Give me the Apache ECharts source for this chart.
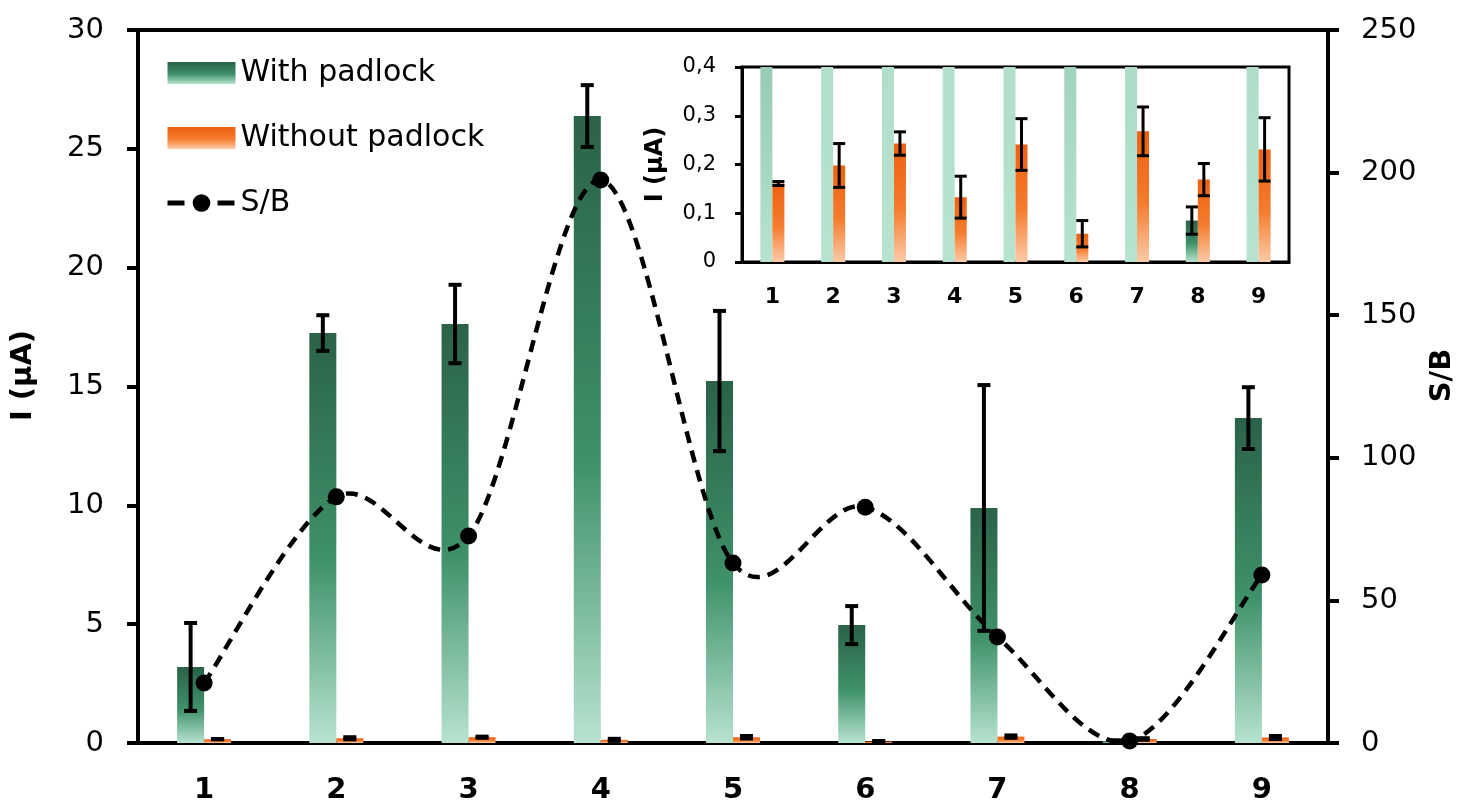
<!DOCTYPE html>
<html>
<head>
<meta charset="utf-8">
<title>Padlock S/B</title>
<script src="https://cdn.jsdelivr.net/npm/echarts@6/dist/echarts.min.js"></script>
<style>
  html, body { margin: 0; padding: 0; background: #fff; }
  #chart { width: 1457px; height: 802px; }
</style>
</head>
<body>
<div id="chart"></div>
<script>
// categories (x axis)
const categories = ['1', '2', '3', '4', '5', '6', '7', '8', '9'];
// current, µA
const withPadlock = [3.2, 17.25, 17.63, 26.38, 15.23, 4.96, 9.89, 0.085, 13.67];
const withPadlockErr = [1.85, 0.75, 1.65, 1.3, 2.95, 0.8, 5.17, 0.028, 1.3];
const withoutPadlock = [0.161, 0.198, 0.243, 0.133, 0.241, 0.058, 0.268, 0.169, 0.231];
const withoutPadlockErr = [0.004, 0.045, 0.024, 0.043, 0.053, 0.027, 0.05, 0.033, 0.065];
// signal / background
const sbRatio = [21, 86.3, 72.6, 197.4, 63.1, 82.7, 37.2, 0.7, 58.9];

const FONT = 'DejaVu Sans';
const MAIN_BAR = 27;
const INSET_BAR = 12;
const INSET_MAX = 0.4;

// gradient stops, top of bar -> bottom of bar
const greenStops = [[0, '#2b6248'], [0.55, '#3e9169'], [1, '#b7e3cf']];
const orangeStops = [[0, '#ee6010'], [0.55, '#f57c2e'], [1, '#fdcaa8']];

function hexRgb(h) {
  return [1, 3, 5].map(i => parseInt(h.substr(i, 2), 16));
}
function colorAt(stops, t) {
  for (let i = 1; i < stops.length; i++) {
    if (t <= stops[i][0]) {
      const [o0, c0] = stops[i - 1];
      const [o1, c1] = stops[i];
      const k = (t - o0) / (o1 - o0);
      const a = hexRgb(c0), b = hexRgb(c1);
      return 'rgb(' + a.map((v, j) => Math.round(v + (b[j] - v) * k)).join(',') + ')';
    }
  }
  return stops[stops.length - 1][1];
}
function makeGradient(stops) {
  return new echarts.graphic.LinearGradient(0, 0, 0, 1,
    stops.map(s => ({ offset: s[0], color: s[1] })));
}
// bar cut by the top of the inset: only the lower part of its gradient shows
function clippedGradient(stops, value, max) {
  if (value <= max) return makeGradient(stops);
  const t0 = 1 - max / value;
  const out = [[0, colorAt(stops, t0)]];
  stops.forEach(s => {
    if (s[0] > t0) out.push([(s[0] - t0) / (1 - t0), s[1]]);
  });
  return makeGradient(out);
}

function errorRows(values, errs) {
  return values.map((v, i) => [i, v - errs[i], v + errs[i]]);
}

function errorSeries(values, errs, xi, yi, offset, capW, lw, clip) {
  return {
    type: 'custom',
    xAxisIndex: xi,
    yAxisIndex: yi,
    clip: clip,
    z: 4,
    silent: true,
    encode: { x: 0, y: [1, 2] },
    data: errorRows(values, errs),
    renderItem: function (params, api) {
      const lo = api.coord([api.value(0), api.value(1)]);
      const hi = api.coord([api.value(0), api.value(2)]);
      const cx = lo[0] + offset;
      const st = { stroke: '#000', lineWidth: lw };
      return {
        type: 'group',
        children: [
          { type: 'line', shape: { x1: cx, y1: lo[1], x2: cx, y2: hi[1] }, style: st },
          { type: 'line', shape: { x1: cx - capW / 2, y1: lo[1], x2: cx + capW / 2, y2: lo[1] }, style: st },
          { type: 'line', shape: { x1: cx - capW / 2, y1: hi[1], x2: cx + capW / 2, y2: hi[1] }, style: st }
        ]
      };
    }
  };
}

// spreadsheet-style smoothed line (Catmull-Rom through the S/B points)
function smoothCurve(params, api) {
  if (params.dataIndex !== 0) return;
  const pts = sbRatio.map((v, i) => api.coord([i, v]));
  const n = pts.length;
  let d = 'M' + pts[0][0] + ' ' + pts[0][1];
  for (let i = 0; i < n - 1; i++) {
    const p0 = pts[Math.max(i - 1, 0)];
    const p1 = pts[i];
    const p2 = pts[i + 1];
    const p3 = pts[Math.min(i + 2, n - 1)];
    const c1x = p1[0] + (p2[0] - p0[0]) / 6;
    const c1y = p1[1] + (p2[1] - p0[1]) / 6;
    const c2x = p2[0] - (p3[0] - p1[0]) / 6;
    const c2y = p2[1] - (p3[1] - p1[1]) / 6;
    d += ' C' + c1x + ' ' + c1y + ' ' + c2x + ' ' + c2y + ' ' + p2[0] + ' ' + p2[1];
  }
  return {
    type: 'path',
    shape: { pathData: d },
    style: { fill: 'none', stroke: '#000', lineWidth: 4.5, lineDash: [12, 8] }
  };
}

const chart = echarts.init(document.getElementById('chart'));

const option = {
  animation: false,
  textStyle: { fontFamily: FONT, color: '#000' },
  legend: {
    orient: 'vertical',
    left: 165,
    top: 58,
    padding: 0,
    itemGap: 35,
    itemWidth: 68,
    itemHeight: 22,
    textStyle: { fontSize: 30, color: '#000', fontFamily: FONT },
    data: [
      { name: 'With padlock', icon: 'rect' },
      { name: 'Without padlock', icon: 'rect' },
      { name: 'S/B', lineStyle: { width: 5, type: [17, 33], color: '#000', opacity: 1 } }
    ]
  },
  grid: [
    {
      left: 138, right: 129, top: 30, bottom: 59, outerBoundsMode: 'none',
      show: true, borderColor: '#000', borderWidth: 4
    },
    {
      left: 742, right: 168, top: 67, bottom: 540, outerBoundsMode: 'none',
      show: true, borderColor: '#000', borderWidth: 3, backgroundColor: '#fff'
    }
  ],
  xAxis: [
    {
      type: 'category',
      gridIndex: 0,
      data: categories,
      axisLine: { lineStyle: { color: '#000', width: 4 } },
      axisTick: { length: 10, lineStyle: { color: '#000', width: 4 } },
      axisLabel: { fontSize: 29, fontWeight: 'bold', color: '#000', margin: 33 }
    },
    {
      type: 'category',
      gridIndex: 1,
      data: categories,
      axisLine: { lineStyle: { color: '#000', width: 3 } },
      axisTick: { length: 7, lineStyle: { color: '#000', width: 3 } },
      axisLabel: { fontSize: 22, fontWeight: 'bold', color: '#000', margin: 24 }
    }
  ],
  yAxis: [
    {
      type: 'value',
      gridIndex: 0,
      min: 0, max: 30, interval: 5,
      splitLine: { show: false },
      axisLine: { show: true, lineStyle: { color: '#000', width: 4 } },
      axisTick: { show: true, length: 11, lineStyle: { color: '#000', width: 4 } },
      axisLabel: { fontSize: 29, color: '#000', margin: 34 },
      name: 'I (µA)',
      nameLocation: 'middle',
      nameRotate: 90,
      nameGap: 100,
      nameTextStyle: { fontSize: 29, fontWeight: 'bold', color: '#000', padding: [0, 0, 0, 22] }
    },
    {
      type: 'value',
      gridIndex: 0,
      position: 'right',
      min: 0, max: 250, interval: 50,
      splitLine: { show: false },
      axisLine: { show: true, lineStyle: { color: '#000', width: 4 } },
      axisTick: { show: true, length: 11, lineStyle: { color: '#000', width: 4 } },
      axisLabel: { fontSize: 29, color: '#000', margin: 33 },
      name: 'S/B',
      nameLocation: 'middle',
      nameRotate: 90,
      nameGap: 100,
      nameTextStyle: { fontSize: 29, fontWeight: 'bold', color: '#000', padding: [0, 0, 0, 22] }
    },
    {
      type: 'value',
      gridIndex: 1,
      min: 0, max: INSET_MAX, interval: 0.1,
      splitLine: { show: false },
      axisLine: { show: true, lineStyle: { color: '#000', width: 3 } },
      axisTick: { show: true, length: 7, lineStyle: { color: '#000', width: 3 } },
      axisLabel: {
        fontSize: 21, color: '#000', margin: 26,
        formatter: v => v === 0 ? '0' : v.toFixed(1).replace('.', ',')
      },
      name: 'I (µA)',
      nameLocation: 'middle',
      nameRotate: 90,
      nameGap: 74,
      nameTextStyle: { fontSize: 24, fontWeight: 'bold', color: '#000' }
    }
  ],
  series: [
    {
      name: 'With padlock',
      type: 'bar',
      xAxisIndex: 0, yAxisIndex: 0,
      barWidth: MAIN_BAR,
      barGap: '0%',
      itemStyle: { color: makeGradient(greenStops) },
      data: withPadlock
    },
    {
      name: 'Without padlock',
      type: 'bar',
      xAxisIndex: 0, yAxisIndex: 0,
      barWidth: MAIN_BAR,
      barGap: '0%',
      itemStyle: { color: makeGradient(orangeStops) },
      data: withoutPadlock
    },
    errorSeries(withPadlock, withPadlockErr, 0, 0, -MAIN_BAR / 2, 13, 4, false),
    errorSeries(withoutPadlock, withoutPadlockErr, 0, 0, MAIN_BAR / 2, 13, 4, false),
    {
      name: 'S/B curve',
      type: 'custom',
      xAxisIndex: 0, yAxisIndex: 1,
      clip: true,
      silent: true,
      z: 5,
      encode: { x: 0, y: 1 },
      data: sbRatio.map((v, i) => [i, v]),
      renderItem: smoothCurve
    },
    {
      name: 'S/B',
      type: 'line',
      xAxisIndex: 0, yAxisIndex: 1,
      symbol: 'circle',
      symbolSize: 17,
      z: 6,
      lineStyle: { color: '#000', width: 0 },
      itemStyle: { color: '#000' },
      data: sbRatio
    },
    {
      name: 'inset with',
      type: 'bar',
      xAxisIndex: 1, yAxisIndex: 2,
      barWidth: INSET_BAR,
      barGap: '0%',
      data: withPadlock.map(v => ({
        value: v,
        itemStyle: { color: clippedGradient(greenStops, v, INSET_MAX) }
      }))
    },
    {
      name: 'inset without',
      type: 'bar',
      xAxisIndex: 1, yAxisIndex: 2,
      barWidth: INSET_BAR,
      barGap: '0%',
      data: withoutPadlock.map(v => ({
        value: v,
        itemStyle: { color: clippedGradient(orangeStops, v, INSET_MAX) }
      }))
    },
    errorSeries(withPadlock, withPadlockErr, 1, 2, -INSET_BAR / 2, 12, 3, true),
    errorSeries(withoutPadlock, withoutPadlockErr, 1, 2, INSET_BAR / 2, 12, 3, true)
  ]
};

chart.setOption(option);
</script>
</body>
</html>
